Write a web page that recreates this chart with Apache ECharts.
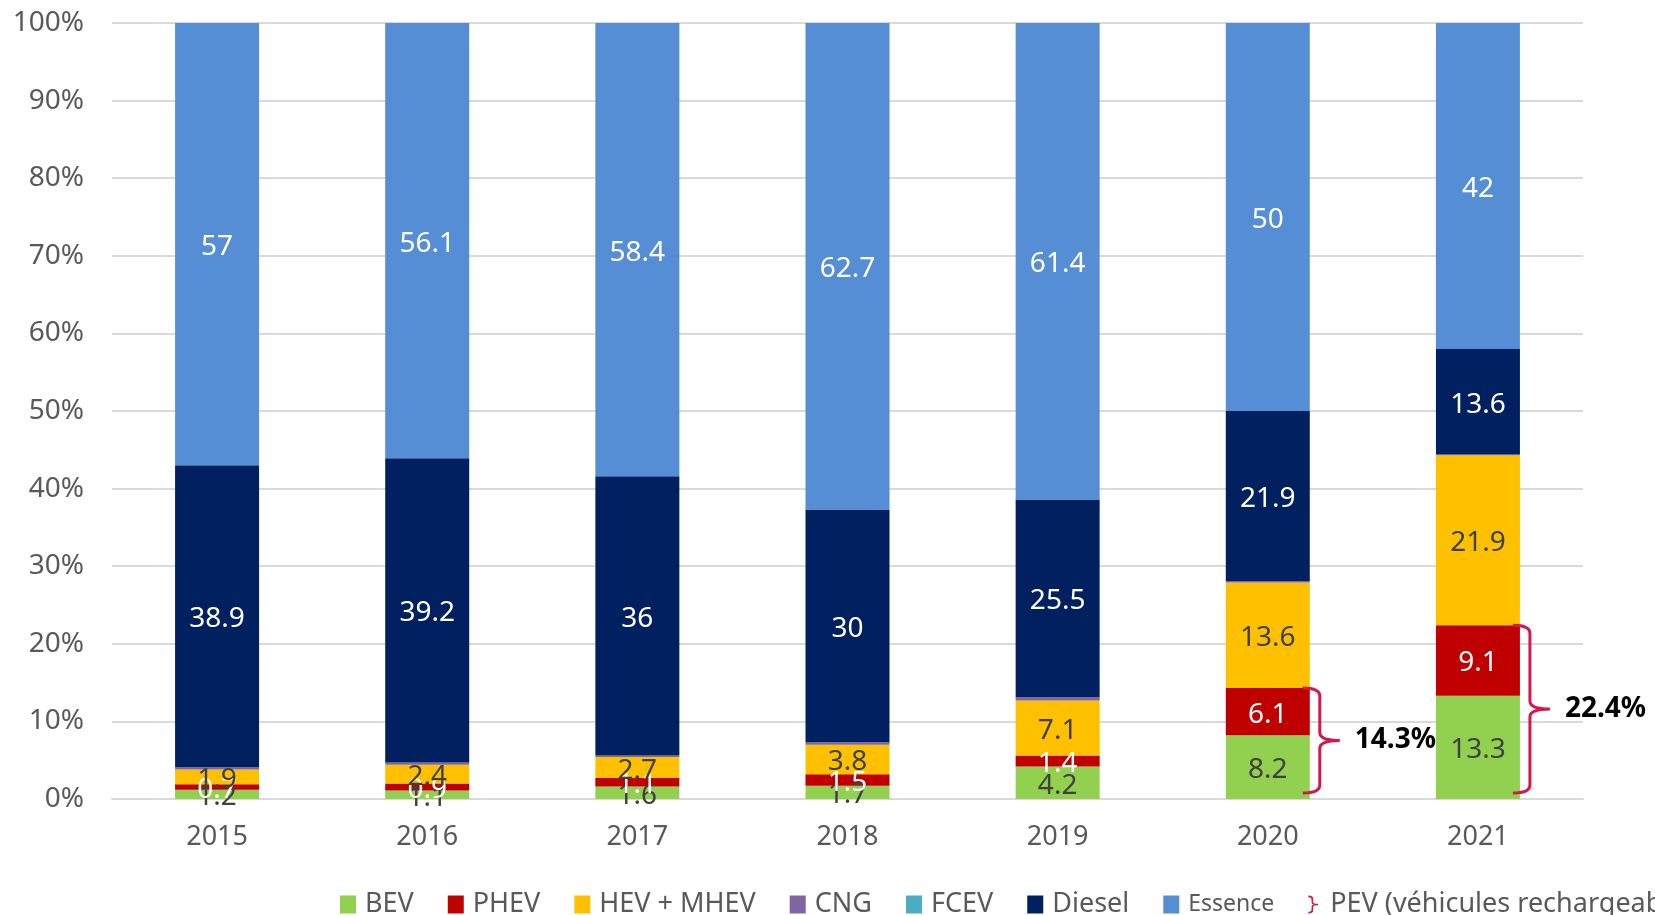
<!DOCTYPE html>
<html lang="fr">
<head>
    <meta charset="UTF-8">
    <title>Ventes par motorisation</title>
    <style>
        html, body { margin: 0; padding: 0; background: #fff; }
        #chart { width: 1655px; height: 915px; }
    </style>
</head>
<body>
<div id="chart"></div>
<script src="https://cdn.jsdelivr.net/npm/echarts@6/dist/echarts.min.js"></script>
<script>
    // données (% des immatriculations)
    var years = ['2015', '2016', '2017', '2018', '2019', '2020', '2021'];
    var bev = [1.2, 1.1, 1.6, 1.7, 4.2, 8.2, 13.3];
    var phev = [0.7, 0.9, 1.1, 1.5, 1.4, 6.1, 9.1];
    var hev = [1.9, 2.4, 2.7, 3.8, 7.1, 13.6, 21.9];
    var cng = [0.3, 0.3, 0.2, 0.3, 0.4, 0.2, 0.1];
    var fcev = [0, 0, 0, 0, 0, 0, 0];
    var diesel = [38.9, 39.2, 36, 30, 25.5, 21.9, 13.6];
    var essence = [57, 56.1, 58.4, 62.7, 61.4, 50, 42];
    // accolades PEV : [année, bas, haut, libellé]
    var pevBraces = [[5, 0, 14.3, '14.3%'], [6, 0, 22.4, '22.4%']];
    var yTicks = [0, 10, 20, 30, 40, 50, 60, 70, 80, 90, 100];

    var FONT = 'Noto Sans';
    var BAR_W = 84;
    var RED = '#d4174e';

    function barSerie(name, data, color, labelColor) {
        return {
            name: name,
            type: 'bar',
            stack: 'total',
            barWidth: BAR_W,
            data: data,
            itemStyle: { color: color },
            label: {
                show: !!labelColor,
                position: 'inside',
                offset: [0, 3],
                color: labelColor || '#fff',
                fontFamily: FONT,
                fontSize: 28,
                formatter: function (p) { return p.value > 0 ? String(p.value) : ''; }
            }
        };
    }

    var chart = echarts.init(document.getElementById('chart'));
    var option = {
        animation: false,
        textStyle: { fontFamily: FONT },
        grid: { left: 112, right: 72, top: 23, bottom: 116 },
        legend: {
            left: 335,
            top: 886,
            width: 3000,
            itemWidth: 16,
            itemHeight: 18,
            itemGap: 34,
            textStyle: { color: '#595959', fontSize: 27, fontFamily: FONT, padding: [0, 0, 0, 4] },
            data: [
                { name: 'BEV', icon: 'rect' },
                { name: 'PHEV', icon: 'rect' },
                { name: 'HEV + MHEV', icon: 'rect' },
                { name: 'CNG', icon: 'rect' },
                { name: 'FCEV', icon: 'rect' },
                { name: 'Diesel', icon: 'rect' },
                { name: 'Essence', icon: 'rect', textStyle: { fontSize: 23 } },
                {
                    name: 'PEV (véhicules rechargeables)',
                    icon: 'path://M0,0 Q6,0 6,4 L6,8.5 Q6,10 12,10 L12,12 Q6,12 6,13.5 L6,18 Q6,22 0,22 L0,20 Q4,20 4,17 L4,13.5 Q4,11 7,11 Q4,11 4,8.5 L4,5 Q4,2 0,2 Z',
                    itemStyle: { color: RED }
                }
            ]
        },
        xAxis: {
            type: 'category',
            data: years,
            axisLine: { lineStyle: { color: '#d9d9d9', width: 2 } },
            axisTick: { show: false },
            axisLabel: { color: '#595959', fontSize: 27, fontFamily: FONT, margin: 25 }
        },
        yAxis: {
            type: 'value',
            min: yTicks[0],
            max: yTicks[yTicks.length - 1],
            interval: yTicks[1] - yTicks[0],
            axisLine: { show: false },
            axisTick: { show: false },
            splitLine: { lineStyle: { color: '#d9d9d9', width: 2 } },
            axisLabel: { color: '#595959', fontSize: 28, fontFamily: FONT, margin: 28, formatter: '{value}%' }
        },
        series: [
            barSerie('BEV', bev, '#92d050', '#404040'),
            barSerie('PHEV', phev, '#c00000', '#ffffff'),
            barSerie('HEV + MHEV', hev, '#ffc000', '#404040'),
            barSerie('CNG', cng, '#8064a2', null),
            barSerie('FCEV', fcev, '#4bacc6', null),
            barSerie('Diesel', diesel, '#002060', '#ffffff'),
            barSerie('Essence', essence, '#558ed5', '#ffffff'),
            {
                name: 'PEV (véhicules rechargeables)',
                type: 'custom',
                coordinateSystem: 'cartesian2d',
                itemStyle: { color: RED },
                encode: { x: 0, y: [1, 2] },
                z: 10,
                clip: false,
                data: pevBraces,
                renderItem: function (params, api) {
                    var lo = api.coord([api.value(0), api.value(1)]);
                    var hi = api.coord([api.value(0), api.value(2)]);
                    var x0 = lo[0] + BAR_W / 2 - 7;
                    var xv = lo[0] + BAR_W / 2 + 10;
                    var xt = lo[0] + BAR_W / 2 + 30;
                    var yb = lo[1] - 6;
                    var yt = hi[1];
                    var ym = (yb + yt) / 2;
                    var r = 8;
                    var d = 'M' + x0 + ',' + yt +
                        ' Q' + xv + ',' + yt + ' ' + xv + ',' + (yt + r) +
                        ' L' + xv + ',' + (ym - r) +
                        ' Q' + xv + ',' + ym + ' ' + xt + ',' + ym +
                        ' M' + xt + ',' + ym +
                        ' Q' + xv + ',' + ym + ' ' + xv + ',' + (ym + r) +
                        ' L' + xv + ',' + (yb - r) +
                        ' Q' + xv + ',' + yb + ' ' + x0 + ',' + yb;
                    return {
                        type: 'group',
                        children: [
                            {
                                type: 'path',
                                shape: { pathData: d },
                                style: { fill: null, stroke: RED, lineWidth: 3 }
                            },
                            {
                                type: 'text',
                                style: {
                                    x: lo[0] + BAR_W / 2 + 45,
                                    y: ym,
                                    text: pevBraces[params.dataIndex][3],
                                    fill: '#000',
                                    font: 'bold 28px "Noto Sans"',
                                    verticalAlign: 'middle'
                                }
                            }
                        ]
                    };
                }
            }
        ]
    };
    chart.setOption(option);
</script>
</body>
</html>
